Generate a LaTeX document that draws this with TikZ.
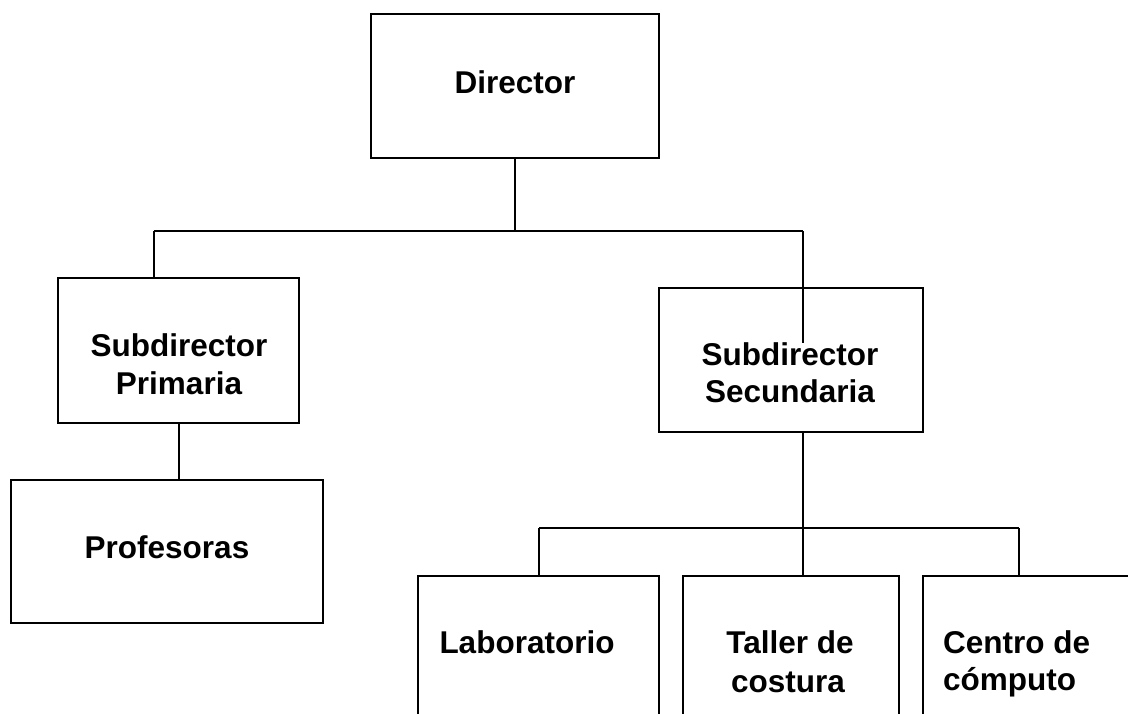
\documentclass[tikz,border=0pt]{standalone}
\usepackage{fontspec}
\setmainfont{Liberation Sans}
\begin{document}
\begin{tikzpicture}[x=1pt,y=-1pt,
  box/.style={draw=black, line width=1.9pt, fill=none, inner sep=0pt},
  lbl/.style={font=\fontsize{31.5}{38}\selectfont\bfseries, anchor=base, inner sep=0pt},
  link/.style={draw=black, line width=1.9pt}]
\useasboundingbox (0,0) rectangle (1128,713);
\clip (0,0) rectangle (1128,713);

% boxes
\node[box, minimum width=288pt, minimum height=144pt] (dir) at (515,86) {};
\node[box, minimum width=241pt, minimum height=145pt] (subp) at (178.5,350.5) {};
\node[box, minimum width=312pt, minimum height=143pt] (prof) at (167,551.5) {};
\node[box, minimum width=264pt, minimum height=144pt] (subs) at (791,360) {};
\node[box, minimum width=241pt, minimum height=180pt] (lab) at (538.5,666) {};
\node[box, minimum width=216pt, minimum height=180pt] (tall) at (791,666) {};
\node[box, minimum width=240pt, minimum height=180pt] (cent) at (1043,666) {};

% junction points
\coordinate (dbus) at (515,231);
\coordinate (busL) at (154,231);
\coordinate (busR) at (803,231);
\coordinate (busRend) at (803,343);
\coordinate (sbus) at (803,528);
\coordinate (sbusL) at (539,528);
\coordinate (sbusR) at (1019,528);

% connectors
\draw[link] (dir.south) -- (dbus);
\draw[link] (busL) -- (busR);
\draw[link] (busL) -- (busL |- subp.north);
\draw[link] (busR) -- (busRend);
\draw[link] (subp.south) ++(0.5,0) coordinate (pdrop) -- (pdrop |- prof.north);
\draw[link] (busR |- subs.south) -- (busR |- tall.north);
\draw[link] (sbusL) -- (sbusR);
\draw[link] (sbusL) -- (sbusL |- lab.north);
\draw[link] (sbusR) -- (sbusR |- cent.north);

% labels
\node[lbl] (tdir) at (515,93) {Director};
\node[lbl] (tsubp1) at (179,356) {Subdirector};
\node[lbl] (tsubp2) at (179,394) {Primaria};
\node[lbl] (tprof) at (167,558) {Profesoras};
\node[lbl] (tsubs1) at (790,365) {Subdirector};
\node[lbl] (tsubs2) at (790,402) {Secundaria};
\node[lbl] (tlab) at (527,653) {Laboratorio};
\node[lbl] (ttall1) at (790,653) {Taller de};
\node[lbl] (ttall2) at (788,692) {costura};
\node[lbl, anchor=base west] (tcent1) at (943,653) {Centro de};
\node[lbl, anchor=base west] (tcent2) at (943,690) {cómputo};
\end{tikzpicture}
\end{document}
